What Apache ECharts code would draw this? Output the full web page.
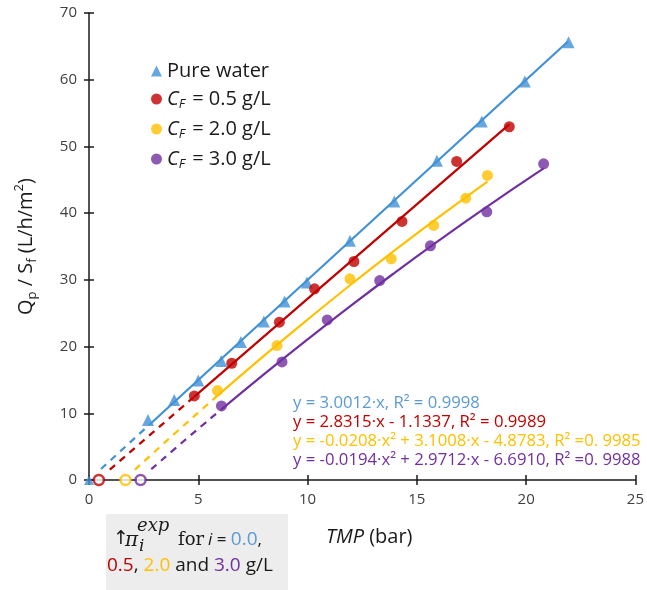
<!DOCTYPE html>
<html><head><meta charset="utf-8">
<script src="https://cdn.jsdelivr.net/npm/echarts@6/dist/echarts.min.js"></script>
<style>html,body{margin:0;padding:0;background:#fff}#c{width:647px;height:590px}</style>
</head><body><div id="c"></div>
<script>
// ---- data ----
const xTicks = [0, 5, 10, 15, 20, 25];
const yTicks = [0, 10, 20, 30, 40, 50, 60, 70];

const pureX = [2.7, 3.9, 5.0, 6.05, 6.95, 8.0, 8.95, 9.97, 11.94, 13.97, 15.92, 17.97, 19.94, 21.94];
const pureY = [9.0, 12.0, 14.9, 17.85, 20.7, 23.75, 26.75, 29.6, 35.85, 41.75, 47.85, 53.75, 59.75, 65.6];

const redX = [4.82, 6.53, 8.71, 10.32, 12.12, 14.32, 16.82, 19.23];
const redY = [12.6, 17.5, 23.65, 28.65, 32.75, 38.75, 47.75, 52.95];

const yelX = [5.88, 8.6, 11.94, 13.83, 15.77, 17.24, 18.23];
const yelY = [13.4, 20.15, 30.15, 33.15, 38.15, 42.25, 45.65];

const purX = [6.06, 8.83, 10.9, 13.3, 15.62, 18.2, 20.8];
const purY = [11.1, 17.7, 24.0, 29.9, 35.1, 40.2, 47.4];

// trend lines (solid) and extrapolations (dashed)
const pureFitX = [2.85, 21.9];           const pureFitY = [8.55, 65.7];
const pureExtX = [0.55, 2.85];           const pureExtY = [1.65, 8.55];
const redFitX  = [4.82, 19.23];          const redFitY  = [12.5, 53.3];
const redExtX  = [0.95, 4.82];           const redExtY  = [1.55, 12.5];
const yelFitX  = [5.88, 8, 10, 12, 14, 16, 18.23];
const yelFitY  = [12.64, 18.6, 24.05, 29.34, 34.46, 39.41, 44.74];
const yelExtX  = [2.1, 4, 5.88];         const yelExtY  = [1.54, 7.19, 12.64];
const purFitX  = [6.06, 8, 10, 12, 14, 16, 18, 20.8];
const purFitY  = [10.6, 15.84, 21.08, 26.17, 31.1, 35.88, 40.5, 46.7];
const purExtX  = [2.85, 4.5, 6.06];      const purExtY  = [1.62, 6.29, 10.6];

// experimental osmotic pressure markers on the x axis
const piX = [0, 0.45, 1.67, 2.36];
const piY = [0, 0, 0, 0];

const seriesNames = ['Pure water', 'CF0.5', 'CF2.0', 'CF3.0'];
const legendLabels = { 'CF0.5': '0.5 g/L', 'CF2.0': '2.0 g/L', 'CF3.0': '3.0 g/L' };

const equations = [
  'y = 3.0012\u00b7x, R\u00b2 = 0.9998',
  'y = 2.8315\u00b7x - 1.1337, R\u00b2 = 0.9989',
  'y = -0.0208\u00b7x\u00b2 + 3.1008\u00b7x - 4.8783, R\u00b2 =0. 9985',
  'y = -0.0194\u00b7x\u00b2 + 2.9712\u00b7x - 6.6910, R\u00b2 =0. 9988'
];

const BLUE = '#4191d6', RED = '#c00000', YEL = '#ffc000', PUR = '#7030a0';
const EQBLUE = '#5b9bd5';
const FONT = '"Open Sans", sans-serif';
const SERIF = '"DejaVu Serif", "Liberation Serif", serif';

const zip = (a, b) => a.map((v, i) => [v, b[i]]);

function fitLine(name, xs, ys, color, dashed) {
  return {
    type: 'line', name: name, data: zip(xs, ys), smooth: xs.length > 2,
    symbol: 'none', silent: true, z: 2,
    lineStyle: { color: color, width: 2.2, type: dashed ? [7, 6] : 'solid' }
  };
}

const chart = echarts.init(document.getElementById('c'), null, { renderer: 'canvas' });

const gridLeft = 89, gridTop = 13, gridRight = 8, gridBottom = 110;

chart.setOption({
  backgroundColor: '#ffffff',
  animation: false,
  grid: { left: gridLeft, top: gridTop, right: gridRight, bottom: gridBottom, containLabel: false },
  legend: {
    data: [
      { name: seriesNames[0], icon: 'triangle' },
      { name: seriesNames[1], icon: 'circle' },
      { name: seriesNames[2], icon: 'circle' },
      { name: seriesNames[3], icon: 'circle' }
    ],
    orient: 'vertical', left: 146, top: 56,
    itemWidth: 11, itemHeight: 11, itemGap: 8,
    formatter: function (n) {
      if (n === 'Pure water') return '{a|Pure water}';
      return '{c|C}{f|F}{a| = ' + legendLabels[n] + '}';
    },
    textStyle: {
      color: '#1a1a1a', fontFamily: FONT, fontSize: 20,
      rich: {
        a: { fontFamily: FONT, fontSize: 20, color: '#1a1a1a', lineHeight: 24 },
        c: { fontFamily: FONT, fontSize: 20, fontStyle: 'italic', color: '#1a1a1a', lineHeight: 24 },
        f: { fontFamily: FONT, fontSize: 13, fontStyle: 'italic', color: '#1a1a1a', lineHeight: 14, verticalAlign: 'bottom', padding: [0, 2, 0, 0] }
      }
    }
  },
  xAxis: [
    {
      type: 'value', min: xTicks[0], max: xTicks[xTicks.length - 1], interval: 5,
      position: 'bottom',
      name: '{i|TMP}{a| (bar)}', nameLocation: 'middle', nameGap: 47,
      nameTextStyle: {
        padding: [0, 0, 0, 14],
        rich: {
          i: { fontFamily: FONT, fontSize: 20, fontStyle: 'italic', color: '#1a1a1a' },
          a: { fontFamily: FONT, fontSize: 20, color: '#1a1a1a' }
        }
      },
      axisLine: { show: true, lineStyle: { color: '#1a1a1a', width: 1.5 } },
      axisTick: { show: true, inside: false, length: 5, lineStyle: { color: '#1a1a1a', width: 1.5 } },
      axisLabel: { color: '#404040', fontFamily: FONT, fontSize: 15, margin: 12 },
      splitLine: { show: false }
    },
    {
      type: 'value', min: xTicks[0], max: xTicks[xTicks.length - 1], interval: 5,
      position: 'bottom', gridIndex: 0,
      axisLine: { show: false },
      axisTick: { show: true, inside: true, length: 5, lineStyle: { color: '#1a1a1a', width: 1.5 } },
      axisLabel: { show: false }, splitLine: { show: false }
    }
  ],
  yAxis: [
    {
      type: 'value', min: yTicks[0], max: yTicks[yTicks.length - 1], interval: 10,
      position: 'left',
      name: '{a|Q}{s|p}{a| / S}{s|f}{a| (L/h/m}{u|2}{a|)}',
      nameLocation: 'middle', nameGap: 50, nameRotate: 90,
      nameTextStyle: {
        padding: [0, 0, 0, 0],
        rich: {
          a: { fontFamily: FONT, fontSize: 20, color: '#1a1a1a', lineHeight: 26 },
          s: { fontFamily: FONT, fontSize: 13, color: '#1a1a1a', lineHeight: 15, verticalAlign: 'bottom' },
          u: { fontFamily: FONT, fontSize: 13, color: '#1a1a1a', lineHeight: 15, verticalAlign: 'top' }
        }
      },
      axisLine: { show: true, lineStyle: { color: '#1a1a1a', width: 1.5 } },
      axisTick: { show: true, inside: false, length: 5, lineStyle: { color: '#1a1a1a', width: 1.5 } },
      axisLabel: { color: '#404040', fontFamily: FONT, fontSize: 15, margin: 12 },
      splitLine: { show: false }
    },
    {
      type: 'value', min: yTicks[0], max: yTicks[yTicks.length - 1], interval: 10,
      position: 'left', gridIndex: 0,
      axisLine: { show: false },
      axisTick: { show: true, inside: true, length: 5, lineStyle: { color: '#1a1a1a', width: 1.5 } },
      axisLabel: { show: false }, splitLine: { show: false }
    }
  ],
  graphic: [
    { type: 'text', x: 293, y: 403, style: { text: equations[0], fill: EQBLUE, fontFamily: FONT, fontSize: 16.7, textVerticalAlign: 'middle' } },
    { type: 'text', x: 293, y: 422, style: { text: equations[1], fill: RED, fontFamily: FONT, fontSize: 16.7, textVerticalAlign: 'middle' } },
    { type: 'text', x: 293, y: 441, style: { text: equations[2], fill: YEL, fontFamily: FONT, fontSize: 16.7, textVerticalAlign: 'middle' } },
    { type: 'text', x: 293, y: 460, style: { text: equations[3], fill: PUR, fontFamily: FONT, fontSize: 16.7, textVerticalAlign: 'middle' } },
    { type: 'rect', shape: { x: 106, y: 514, width: 182, height: 76 }, style: { fill: '#ededed' }, z: 0 },
    { type: 'text', x: 113, y: 539, style: { text: '\u2191', fill: '#1a1a1a', fontFamily: '"DejaVu Sans", sans-serif', fontSize: 19, textVerticalAlign: 'middle' }, z: 5 },
    { type: 'text', x: 125, y: 541, style: { text: '\u03c0', fill: '#1a1a1a', fontFamily: SERIF, fontSize: 20, fontStyle: 'italic', textVerticalAlign: 'middle' }, z: 5 },
    { type: 'text', x: 137, y: 526, style: { text: 'exp', fill: '#1a1a1a', fontFamily: SERIF, fontSize: 18, fontStyle: 'italic', textVerticalAlign: 'middle' }, z: 5 },
    { type: 'text', x: 139, y: 547, style: { text: 'i', fill: '#1a1a1a', fontFamily: SERIF, fontSize: 17, fontStyle: 'italic', textVerticalAlign: 'middle' }, z: 5 },
    { type: 'text', x: 178, y: 540, style: { text: 'for', fill: '#1a1a1a', fontFamily: SERIF, fontSize: 18, textVerticalAlign: 'middle' }, z: 5 },
    { type: 'text', x: 208, y: 540, style: {
        text: '{i|i}{a| = }{b|0.0}{a|,}', textVerticalAlign: 'middle',
        rich: {
          i: { fontFamily: FONT, fontSize: 17, fontStyle: 'italic', fill: '#1a1a1a' },
          a: { fontFamily: FONT, fontSize: 17, fill: '#1a1a1a' },
          b: { fontFamily: FONT, fontSize: 19, fill: EQBLUE }
        } }, z: 5 },
    { type: 'text', x: 107, y: 566, style: {
        text: '{r|0.5}{a|, }{y|2.0}{a| and }{p|3.0}{a| g/L}', textVerticalAlign: 'middle',
        rich: {
          a: { fontFamily: FONT, fontSize: 19, fill: '#1a1a1a' },
          r: { fontFamily: FONT, fontSize: 19, fill: RED },
          y: { fontFamily: FONT, fontSize: 19, fill: YEL },
          p: { fontFamily: FONT, fontSize: 19, fill: PUR }
        } }, z: 5 }
  ],
  series: [
    fitLine('pureFit', pureFitX, pureFitY, BLUE, false),
    fitLine('pureExt', pureExtX, pureExtY, BLUE, true),
    fitLine('redFit', redFitX, redFitY, RED, false),
    fitLine('redExt', redExtX, redExtY, RED, true),
    fitLine('yelFit', yelFitX, yelFitY, YEL, false),
    fitLine('yelExt', yelExtX, yelExtY, YEL, true),
    fitLine('purFit', purFitX, purFitY, PUR, false),
    fitLine('purExt', purExtX, purExtY, PUR, true),
    { type: 'scatter', name: seriesNames[0], data: zip(pureX, pureY), symbol: 'triangle', symbolSize: 12, itemStyle: { color: BLUE }, z: 4 },
    { type: 'scatter', name: seriesNames[1], data: zip(redX, redY), symbol: 'circle', symbolSize: 11, itemStyle: { color: RED }, z: 4 },
    { type: 'scatter', name: seriesNames[2], data: zip(yelX, yelY), symbol: 'circle', symbolSize: 11, itemStyle: { color: YEL }, z: 4 },
    { type: 'scatter', name: seriesNames[3], data: zip(purX, purY), symbol: 'circle', symbolSize: 11, itemStyle: { color: PUR }, z: 4 },
    { type: 'scatter', name: 'pi', silent: true, z: 6,
      data: [
        { value: [piX[0], piY[0]], symbol: 'triangle', symbolSize: 10, itemStyle: { color: BLUE } },
        { value: [piX[1], piY[1]], symbol: 'circle', symbolSize: 10, itemStyle: { color: '#fff', borderColor: RED, borderWidth: 2.5 } },
        { value: [piX[2], piY[2]], symbol: 'circle', symbolSize: 10, itemStyle: { color: '#fff', borderColor: YEL, borderWidth: 2.5 } },
        { value: [piX[3], piY[3]], symbol: 'circle', symbolSize: 10, itemStyle: { color: '#fff', borderColor: PUR, borderWidth: 2.5 } }
      ] }
  ]
});
</script>
</body></html>
